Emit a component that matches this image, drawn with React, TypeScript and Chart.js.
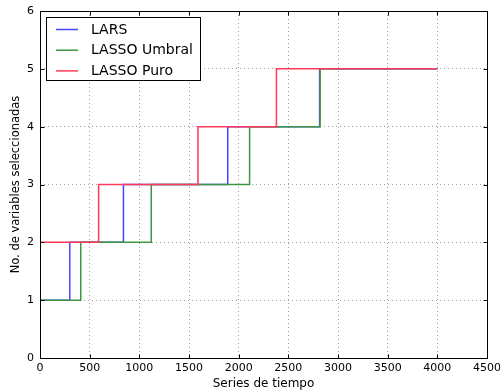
import React, { useEffect, useRef } from "react";
import { Chart, registerables } from "chart.js";

Chart.register(...registerables);

// Step changes in the number of selected variables for each method
const larsX = [0, 300, 840, 1890, 2815, 4000];
const larsY = [1, 2, 3, 4, 5, 5];
const umbralX = [0, 410, 1120, 2110, 2820, 4000];
const umbralY = [1, 2, 3, 4, 5, 5];
const puroX = [0, 590, 1590, 2380, 4000];
const puroY = [2, 3, 4, 5, 5];

const seriesLabels = ["LARS", "LASSO Umbral", "LASSO Puro"];
const seriesColors = ["#4646ff", "#3e963e", "#ff3a5a"];

const xTicks = [0, 500, 1000, 1500, 2000, 2500, 3000, 3500, 4000, 4500];
const yTicks = [0, 1, 2, 3, 4, 5, 6];

const xTitle = "Series de tiempo";
const yTitle = "No. de variables seleccionadas";

const FONT = "'DejaVu Sans', sans-serif";

const toPoints = (xs: number[], ys: number[]) => xs.map((x, i) => ({ x, y: ys[i] }));

// Frame around the plot area with inward tick marks on all four sides
const framePlugin = {
  id: "frame",
  afterDraw(chart: any) {
    const { ctx, chartArea } = chart;
    const { left, right, top, bottom } = chartArea;
    const xs = chart.scales.x;
    const ys = chart.scales.y;
    ctx.save();
    ctx.strokeStyle = "#000";
    ctx.lineWidth = 1;
    ctx.beginPath();
    const L = Math.round(left) + 0.5;
    const R = Math.round(right) + 0.5;
    const T = Math.round(top) + 0.5;
    const B = Math.round(bottom) + 0.5;
    ctx.rect(L, T, R - L, B - T);
    const len = 4;
    xTicks.forEach((v) => {
      const px = Math.round(xs.getPixelForValue(v)) + 0.5;
      ctx.moveTo(px, B);
      ctx.lineTo(px, B - len);
      ctx.moveTo(px, T);
      ctx.lineTo(px, T + len);
    });
    yTicks.forEach((v) => {
      const py = Math.round(ys.getPixelForValue(v)) + 0.5;
      ctx.moveTo(L, py);
      ctx.lineTo(L + len, py);
      ctx.moveTo(R, py);
      ctx.lineTo(R - len, py);
    });
    ctx.stroke();
    ctx.restore();
  },
};

// Legend box drawn in the upper-left corner of the plot
const legendBoxPlugin = {
  id: "legendBox",
  afterDraw(chart: any) {
    const { ctx } = chart;
    const bx = 46.5;
    const by = 17.5;
    const bw = 154;
    const bh = 63;
    ctx.save();
    ctx.fillStyle = "#fff";
    ctx.fillRect(bx, by, bw, bh);
    ctx.strokeStyle = "#000";
    ctx.lineWidth = 1;
    ctx.strokeRect(bx, by, bw, bh);
    ctx.font = `14px ${FONT}`;
    ctx.textBaseline = "middle";
    ctx.textAlign = "left";
    seriesLabels.forEach((label, i) => {
      const cy = 29.5 + i * 20.7;
      ctx.strokeStyle = seriesColors[i];
      ctx.lineWidth = 1.5;
      ctx.beginPath();
      ctx.moveTo(56, cy);
      ctx.lineTo(78, cy);
      ctx.stroke();
      ctx.fillStyle = "#000";
      ctx.fillText(label, 91, cy + 0.5);
    });
    ctx.restore();
  },
};

export default function App() {
  const canvasRef = useRef<HTMLCanvasElement | null>(null);

  useEffect(() => {
    if (!canvasRef.current) return;
    const seriesData = [toPoints(larsX, larsY), toPoints(umbralX, umbralY), toPoints(puroX, puroY)];
    const grid = {
      color: "rgba(0,0,0,0.38)",
      lineWidth: 1,
      drawTicks: false,
    };
    const chart = new Chart(canvasRef.current, {
      type: "line",
      data: {
        datasets: seriesData.map((d, i) => ({
          label: seriesLabels[i],
          data: d,
          borderColor: seriesColors[i],
          backgroundColor: seriesColors[i],
          borderWidth: 1.5,
          pointRadius: 0,
          fill: false,
          stepped: "before" as const,
          // later series are painted over earlier ones
          order: seriesLabels.length - i,
        })),
      },
      options: {
        responsive: false,
        animation: false,
        layout: { padding: { top: 11, right: 13, left: 0, bottom: 0 } },
        plugins: {
          legend: { display: false },
          tooltip: { enabled: false },
        },
        scales: {
          x: {
            type: "linear",
            min: 0,
            max: 4500,
            afterBuildTicks: (scale: any) => {
              scale.ticks = xTicks.map((v) => ({ value: v }));
            },
            afterFit: (scale: any) => {
              scale.height = 34;
              scale.paddingLeft = 0;
              scale.paddingRight = 0;
            },
            grid: grid as any,
            border: { display: false, dash: [1, 3] },
            ticks: {
              color: "#000",
              font: { family: FONT, size: 11 },
              padding: 4,
              maxRotation: 0,
              autoSkip: false,
              callback: (v: any) => String(v),
            },
            title: {
              display: true,
              text: xTitle,
              color: "#000",
              font: { family: FONT, size: 12 },
              padding: { top: 0, bottom: 1 },
            },
          },
          y: {
            type: "linear",
            min: 0,
            max: 6,
            afterBuildTicks: (scale: any) => {
              scale.ticks = yTicks.map((v) => ({ value: v }));
            },
            afterFit: (scale: any) => {
              scale.width = 40;
              scale.paddingTop = 0;
              scale.paddingBottom = 0;
            },
            grid: grid as any,
            border: { display: false, dash: [1, 3] },
            ticks: {
              color: "#000",
              font: { family: FONT, size: 11 },
              padding: 6,
              callback: (v: any) => String(v),
            },
            title: {
              display: true,
              text: yTitle,
              color: "#000",
              font: { family: FONT, size: 11.5 },
              padding: { top: 9, bottom: 0 },
            },
          },
        },
      },
      plugins: [framePlugin, legendBoxPlugin],
    });
    return () => chart.destroy();
  }, []);

  return (
    <div style={{ position: "absolute", left: 0, top: 0, width: 500, height: 392, background: "#fff" }}>
      <canvas ref={canvasRef} width={500} height={392} />
    </div>
  );
}
